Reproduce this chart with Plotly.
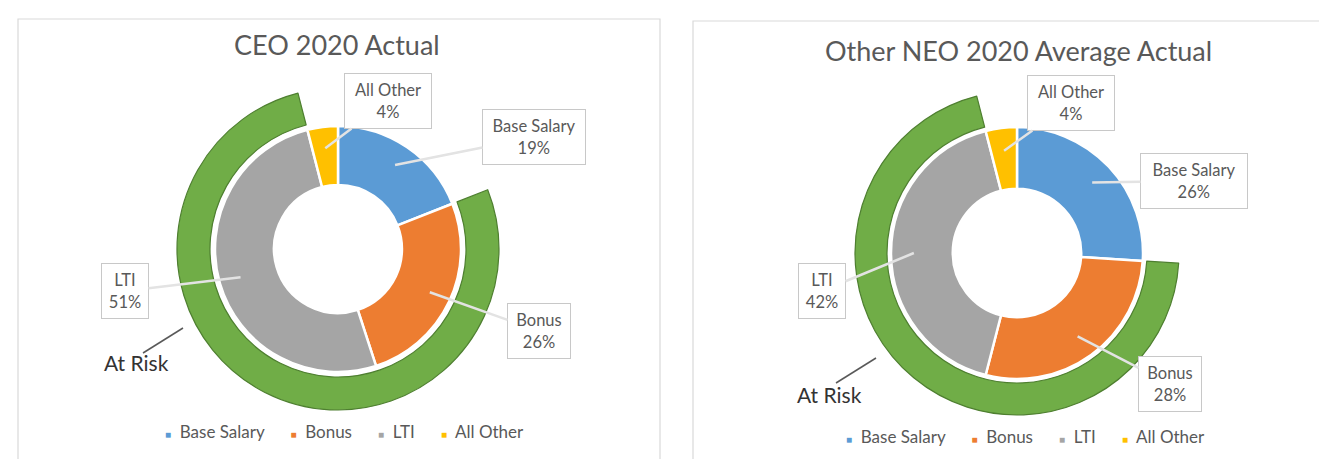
import math
import plotly.graph_objects as go

W, H = 1327, 459

# ---------------- data ----------------
categories = ["Base Salary", "Bonus", "LTI", "All Other"]
colors = ["#5B9BD5", "#ED7D31", "#A5A5A5", "#FFC000"]
ceo_values = [19, 26, 51, 4]
neo_values = [26, 28, 42, 4]
at_risk_categories = ["Bonus", "LTI"]
titles = ["CEO 2020 Actual", "Other NEO 2020 Average Actual"]
at_risk_label = "At Risk"
green = "#70AD47"
green_line = "#4E7F30"

# ---------------- layout settings (pixels) ----------------
panels = [
    dict(values=ceo_values, title=titles[0], cx=330, cy=241, r_in=123, hole=0.52,
         g_out=161, g_in=128, title_xy=(329, 37),
         boxes={"All Other": (380, 93, 80, 48), "Base Salary": (526, 129, 96, 48),
                "Bonus": (531, 323, 56, 48), "LTI": (117, 283, 40, 48)},
         risk_xy=(128, 354), risk_line=((135, 345), (175, 320)),
         legend_xy=(336, 423), border=(10, 11, 652, 480)),
    dict(values=neo_values, title=titles[1], cx=1009, cy=245, r_in=126, hole=0.51,
         g_out=162, g_in=130, title_xy=(1010, 42),
         boxes={"All Other": (1063, 95, 80, 48), "Base Salary": (1186, 173, 100, 48),
                "Bonus": (1162, 376, 56, 48), "LTI": (814, 283, 40, 48)},
         risk_xy=(821, 386), risk_line=((828, 375), (868, 350)),
         legend_xy=(1017, 428), border=(685, 13, 1340, 480)),
]

FONT = "Lato, 'Open Sans', sans-serif"
TXT = "#595959"


def px2paper(x, y):
    return x / W, 1 - y / H


def polar(cx, cy, r, ang):
    a = math.radians(ang)
    return cx + r * math.sin(a), cy - r * math.cos(a)


fig = go.Figure()
annotations = []
shapes = []

for p in panels:
    vals = p["values"]
    cx, cy = p["cx"], p["cy"]
    # outer "At Risk" ring
    risk = sum(v for c, v in zip(categories, vals) if c in at_risk_categories)
    ring_vals = [vals[0], risk, vals[3]]
    R = p["g_out"]
    x0, y1 = px2paper(cx - R, cy - R)
    x1, y0 = px2paper(cx + R, cy + R)
    fig.add_trace(go.Pie(
        values=ring_vals, labels=["a", "b", "c"], sort=False, direction="clockwise",
        rotation=0, hole=p["g_in"] / R, textinfo="none", hoverinfo="skip",
        showlegend=False, domain=dict(x=[x0, x1], y=[y0, y1]),
        marker=dict(colors=["rgba(0,0,0,0)", green, "rgba(0,0,0,0)"],
                    line=dict(color=["rgba(0,0,0,0)", green_line, "rgba(0,0,0,0)"],
                              width=[0, 1.2, 0])),
    ))
    # inner ring
    R = p["r_in"]
    x0, y1 = px2paper(cx - R, cy - R)
    x1, y0 = px2paper(cx + R, cy + R)
    fig.add_trace(go.Pie(
        values=vals, labels=categories, sort=False, direction="clockwise",
        rotation=0, hole=p["hole"], textinfo="none", hoverinfo="skip",
        showlegend=False, domain=dict(x=[x0, x1], y=[y0, y1]),
        marker=dict(colors=colors, line=dict(color="white", width=2.5)),
    ))

    # title
    tx, ty = px2paper(*p["title_xy"])
    annotations.append(dict(x=tx, y=ty, xref="paper", yref="paper", showarrow=False,
                            xanchor="center", yanchor="middle",
                            text=p["title"], font=dict(family=FONT, size=27, color=TXT)))

    # callout labels
    total = sum(vals)
    cum = 0
    r_mid = (p["hole"] * R + R) / 2 + 8
    for c, v in zip(categories, vals):
        mid = (cum + v / 2) / total * 360
        cum += v
        txp, typ = polar(cx, cy, r_mid, mid)
        bx, by, bw, bh = p["boxes"][c]
        ax, ay = px2paper(txp, typ)
        annotations.append(dict(
            x=ax, y=ay, xref="paper", yref="paper", showarrow=True,
            ax=bx - txp, ay=by - typ, arrowhead=0, arrowwidth=2.5, arrowcolor="#e3e3e3",
            text=f"{c}<br>{v}%", font=dict(family=FONT, size=16.5, color=TXT),
            bgcolor="white", bordercolor="#c8c8c8", borderwidth=1, borderpad=3,
            width=bw, height=bh, align="center", valign="middle"))

    # At Risk
    rx, ry = px2paper(*p["risk_xy"])
    annotations.append(dict(x=rx, y=ry, xref="paper", yref="paper", showarrow=False,
                            xanchor="center", yanchor="middle",
                            text=at_risk_label, font=dict(family=FONT, size=21, color="#333333")))
    (lx0, ly0), (lx1, ly1) = p["risk_line"]
    a0 = px2paper(lx0, ly0)
    a1 = px2paper(lx1, ly1)
    shapes.append(dict(type="line", xref="paper", yref="paper", x0=a0[0], y0=a0[1],
                       x1=a1[0], y1=a1[1], line=dict(color="#595959", width=1.5)))

    # legend (manual)
    parts = [f"<span style='color:{col};font-size:10px'>■</span>  {c}"
             for c, col in zip(categories, colors)]
    lx, ly = px2paper(*p["legend_xy"])
    annotations.append(dict(x=lx, y=ly, xref="paper", yref="paper", showarrow=False,
                            xanchor="center", yanchor="middle",
                            text="      ".join(parts),
                            font=dict(family=FONT, size=17, color=TXT)))

    # panel border
    bx0, by0, bx1, by1 = p["border"]
    b0 = px2paper(bx0, by0)
    b1 = px2paper(bx1, by1)
    shapes.append(dict(type="rect", xref="paper", yref="paper", x0=b0[0], y0=b1[1],
                       x1=b1[0], y1=b0[1], line=dict(color="#d9d9d9", width=1.2),
                       fillcolor="rgba(0,0,0,0)", layer="below"))

fig.update_layout(
    width=W, height=H, margin=dict(l=0, r=0, t=0, b=0),
    paper_bgcolor="white", plot_bgcolor="white",
    annotations=annotations, shapes=shapes, showlegend=False,
)

fig.write_html("out.html")
